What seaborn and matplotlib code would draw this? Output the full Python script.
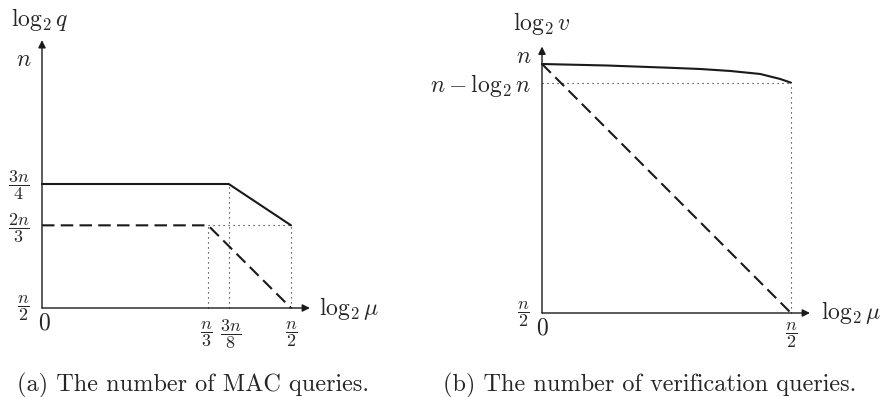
import matplotlib
matplotlib.use("Agg")
import matplotlib.pyplot as plt
import numpy as np
import pandas as pd
import seaborn as sns

sns.set_theme(style="white")
plt.rcParams["mathtext.fontset"] = "cm"
plt.rcParams["font.family"] = ["cmr10", "DejaVu Serif"]
plt.rcParams["axes.formatter.use_mathtext"] = True

# --- (a) MAC queries, values in units of n ---
mac_x = [0, 3 / 8, 1 / 2]
mac_solid = [3 / 4, 3 / 4, 2 / 3]
mac_dash_x = [0, 1 / 3, 1 / 2]
mac_dash = [2 / 3, 2 / 3, 1 / 2]
mac_xticks = [1 / 3, 3 / 8, 1 / 2]
mac_xticklabels = [r"$\dfrac{n}{3}$", r"$\dfrac{3n}{8}$", r"$\dfrac{n}{2}$"]
mac_yticks = [3 / 4, 2 / 3, 1 / 2]
mac_yticklabels = [r"$\dfrac{3n}{4}$", r"$\dfrac{2n}{3}$", r"$\dfrac{n}{2}$"]

# --- (b) verification queries ---
ver_x = [0, 0.13, 0.257, 0.317, 0.378, 0.438, 0.478, 0.5]
ver_solid = [1.0, 0.997, 0.9924, 0.990, 0.986, 0.980, 0.970, 0.9625]
ver_dash_x = [0, 1 / 2]
ver_dash = [1, 1 / 2]
ver_level = 0.9625  # n - log2 n (schematic)

W, H = 883, 397
fig = plt.figure(figsize=(W / 100, H / 100), dpi=100)


def make_axes(px0, px1, x0px, y0py, scale_x, scale_y):
    # axes covering pixel columns px0..px1 and rows 0..355
    ax = fig.add_axes([px0 / W, 1 - 355 / H, (px1 - px0) / W, 355 / H])
    ax.set_xlim((px0 - x0px) / scale_x, (px1 - x0px) / scale_x)
    ax.set_ylim(0.5 - (355 - y0py) / scale_y, 0.5 + y0py / scale_y)
    ax.axis("off")
    return ax


def arrows(ax, xend, yend):
    kw = dict(arrowstyle="-|>", mutation_scale=11, lw=1.0, color="k",
              shrinkA=0, shrinkB=0)
    ax.annotate("", xy=(xend, 0.5), xytext=(0, 0.5), arrowprops=kw)
    ax.annotate("", xy=(0, yend), xytext=(0, 0.5), arrowprops=kw)


dot = dict(color="k", lw=0.8, linestyle=(0, (1, 3.5)))
solid = dict(color="k", lw=1.5)
dash = dict(color="k", lw=1.5, linestyle=(0, (6, 3)))
fs = 17
ffs = 13

# ---------------- panel (a) ----------------
ax1 = make_axes(0, 440, 42, 308, 498, 496)
df_a = pd.DataFrame({"x": mac_x, "y": mac_solid})
sns.lineplot(data=df_a, x="x", y="y", sort=False, ax=ax1, **solid)
df_ad = pd.DataFrame({"x": mac_dash_x, "y": mac_dash})
sns.lineplot(data=df_ad, x="x", y="y", sort=False, ax=ax1, **dash)
ax1.plot([1 / 3, 1 / 3], [1 / 2, 2 / 3], **dot)
ax1.plot([3 / 8, 3 / 8], [1 / 2, 3 / 4], **dot)
ax1.plot([1 / 2, 1 / 2], [1 / 2, 2 / 3], **dot)
ax1.plot([1 / 3, 1 / 2], [2 / 3, 2 / 3], **dot)
arrows(ax1, 0.538, 1.04)
ax1.text(-0.02, 1.0, r"$n$", ha="right", va="center", fontsize=fs)
for v, lab, yy in zip(mac_yticks, mac_yticklabels, [0.747, 0.661, 0.5]):
    ax1.text(-0.024, yy, lab, ha="right", va="center", fontsize=ffs)
for v, lab, dx in zip(mac_xticks, mac_xticklabels, [-0.003, 0.004, 0]):
    ax1.text(v + dx, 0.448, lab, ha="center", va="center", fontsize=ffs)
ax1.text(0.004, 0.469, r"$0$", ha="center", va="center", fontsize=fs)
ax1.text(-0.004, 1.081, r"$\log_2 q$", ha="center", va="center", fontsize=fs)
ax1.text(0.556, 0.5, r"$\log_2 \mu$", ha="left", va="center", fontsize=fs)

# ---------------- panel (b) ----------------
ax2 = make_axes(440, 883, 542, 313, 498, 498)
df_b = pd.DataFrame({"x": ver_x, "y": ver_solid})
sns.lineplot(data=df_b, x="x", y="y", sort=False, ax=ax2, **solid)
df_bd = pd.DataFrame({"x": ver_dash_x, "y": ver_dash})
sns.lineplot(data=df_bd, x="x", y="y", sort=False, ax=ax2, **dash)
ax2.plot([0, 1 / 2], [ver_level, ver_level], **dot)
ax2.plot([1 / 2, 1 / 2], [1 / 2, ver_level], **dot)
arrows(ax2, 0.538, 1.035)
ax2.text(-0.02, 1.014, r"$n$", ha="right", va="center", fontsize=fs)
ax2.text(-0.022, 0.957, r"$n-\log_2 n$", ha="right", va="center", fontsize=fs)
ax2.text(-0.024, 0.498, r"$\dfrac{n}{2}$", ha="right", va="center", fontsize=ffs)
ax2.text(1 / 2, 0.456, r"$\dfrac{n}{2}$", ha="center", va="center", fontsize=ffs)
ax2.text(0.0, 0.468, r"$0$", ha="center", va="center", fontsize=fs)
ax2.text(0.0, 1.082, r"$\log_2 v$", ha="center", va="center", fontsize=fs)
ax2.text(0.56, 0.5, r"$\log_2 \mu$", ha="left", va="center", fontsize=fs)

fig.text(17 / W, 1 - 385 / H, "(a) The number of MAC queries.",
         ha="left", va="center", fontsize=17.5)
fig.text(650 / W, 1 - 385 / H, "(b) The number of verification queries.",
         ha="center", va="center", fontsize=17.5)

fig.savefig("out.png", dpi=100, facecolor="white")
